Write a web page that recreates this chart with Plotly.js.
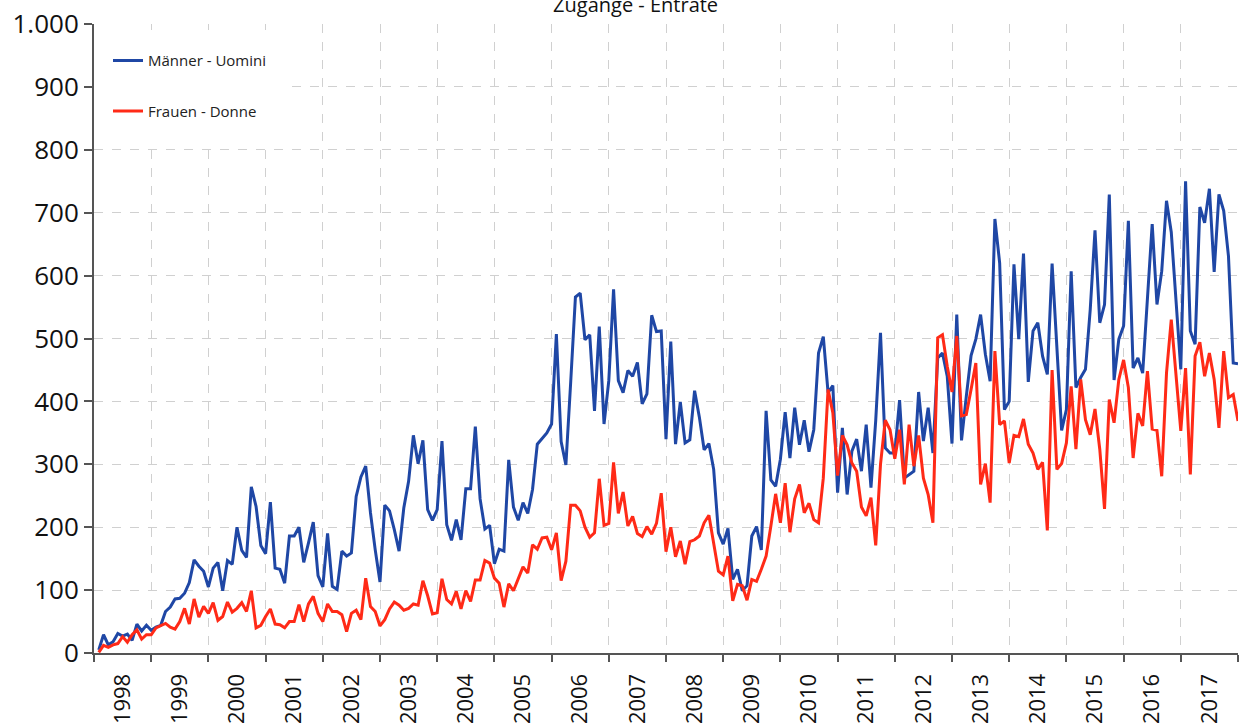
<!DOCTYPE html>
<html>
<head>
<meta charset="utf-8">
<script src="https://cdn.plot.ly/plotly-3.0.1.min.js"></script>
<style>html,body{margin:0;padding:0;background:#fff;}#chart{width:1239px;height:724px;}</style>
</head>
<body>
<div id="chart"></div>
<script>
const years = [1998,1999,2000,2001,2002,2003,2004,2005,2006,2007,2008,2009,2010,2011,2012,2013,2014,2015,2016,2017];
const yearLabels = years.map(String);
const seriesNames = ['Männer - Uomini', 'Frauen - Donne'];
const chartTitle = 'Zugänge - Entrate';

// monthly values, Jan..Dec per line
const maenner = [
  5, 29, 13, 18, 31, 27, 30, 20, 46, 35, 44, 36,
  41, 44, 66, 73, 86, 87, 95, 112, 148, 138, 130, 105,
  135, 144, 99, 147, 141, 200, 163, 152, 264, 233, 171, 158,
  240, 135, 133, 111, 186, 186, 200, 144, 175, 208, 123, 105,
  190, 106, 101, 162, 154, 159, 249, 280, 297, 223, 164, 113,
  235, 226, 196, 162, 231, 273, 346, 301, 338, 228, 211, 228,
  337, 204, 179, 212, 180, 261, 261, 360, 245, 197, 203, 142,
  165, 162, 307, 232, 211, 239, 222, 260, 332, 341, 350, 364,
  507, 336, 299, 430, 566, 572, 498, 506, 385, 519, 364, 433,
  578, 433, 414, 449, 440, 462, 396, 412, 537, 511, 512, 340,
  495, 332, 399, 334, 339, 417, 375, 323, 333, 292, 191, 173,
  198, 117, 133, 99, 107, 186, 201, 164, 385, 275, 265, 308,
  383, 310, 390, 331, 370, 320, 355, 477, 503, 414, 425, 255,
  358, 252, 321, 340, 289, 363, 263, 370, 509, 326, 318, 318,
  402, 278, 283, 289, 415, 337, 390, 318, 469, 477, 440, 333,
  538, 338, 408, 473, 499, 538, 475, 432, 690, 620, 387, 400,
  618, 499, 635, 431, 512, 525, 472, 443, 619, 490, 354, 387,
  607, 422, 438, 451, 546, 672, 525, 554, 729, 434, 499, 520,
  687, 453, 469, 445, 560, 682, 554, 607, 719, 669, 560, 451,
  750, 512, 491, 709, 684, 738, 606, 729, 703, 631, 461, 460
];
const frauen = [
  1, 12, 9, 13, 15, 26, 17, 29, 37, 22, 29, 29,
  40, 43, 47, 41, 38, 50, 71, 46, 86, 57, 74, 63,
  80, 52, 58, 81, 65, 71, 80, 66, 99, 40, 44, 58,
  70, 46, 45, 40, 50, 50, 77, 50, 78, 90, 63, 50,
  78, 66, 66, 61, 34, 63, 68, 53, 119, 74, 66, 43,
  53, 70, 81, 76, 68, 71, 78, 76, 115, 91, 62, 64,
  118, 85, 78, 98, 70, 99, 82, 116, 116, 147, 143, 119,
  111, 73, 110, 99, 119, 137, 127, 172, 165, 183, 184, 164,
  191, 115, 146, 235, 235, 226, 200, 184, 191, 277, 203, 206,
  303, 222, 256, 202, 217, 190, 185, 201, 189, 206, 254, 161,
  200, 153, 178, 141, 177, 180, 186, 207, 219, 172, 130, 124,
  154, 83, 109, 107, 84, 117, 114, 133, 154, 202, 253, 207,
  270, 192, 245, 268, 223, 238, 212, 207, 278, 419, 382, 282,
  346, 331, 302, 289, 232, 218, 247, 171, 300, 370, 355, 309,
  355, 268, 363, 297, 346, 278, 252, 207, 501, 506, 456, 415,
  504, 377, 379, 419, 461, 268, 301, 239, 480, 363, 369, 302,
  346, 344, 372, 332, 318, 292, 303, 195, 450, 292, 301, 334,
  424, 324, 435, 371, 347, 388, 324, 229, 403, 366, 435, 466,
  422, 310, 381, 361, 448, 356, 354, 281, 445, 530, 445, 353,
  453, 284, 472, 494, 440, 477, 435, 358, 480, 406, 411, 369
];

// x position of each monthly value: end of month, in fractional years
const xMonths = [];
years.forEach(y => { for (let m = 1; m <= 12; m++) xMonths.push(y + m / 12); });
const yearMid = years.map(y => y + 0.5);

const FONT = '"Open Sans", "DejaVu Sans", sans-serif';

const traces = [
  {x: xMonths, y: maenner, name: seriesNames[0], type: 'scatter', mode: 'lines',
   line: {color: '#1f47a5', width: 3}, legendgroup: 'a'},
  {x: xMonths, y: frauen, name: seriesNames[1], type: 'scatter', mode: 'lines',
   line: {color: '#ff2a17', width: 3}, legendgroup: 'b'}
];

const layout = {
  width: 1239, height: 724,
  margin: {l: 94, r: 1, t: 24, b: 71, pad: 0},
  paper_bgcolor: '#ffffff', plot_bgcolor: '#ffffff',
  separators: ',.',
  font: {family: FONT, color: '#111'},
  title: {text: chartTitle, font: {size: 20, color: '#111', family: FONT},
          xref: 'container', x: 0.513, xanchor: 'center',
          yref: 'container', y: 0.983, yanchor: 'bottom'},
  showlegend: true,
  legend: {x: 0.0, xanchor: 'left', y: 0.99, yanchor: 'top', bgcolor: '#ffffff',
           font: {size: 15, color: '#222', family: FONT}, tracegroupgap: 28,
           itemwidth: 30, borderwidth: 14, bordercolor: '#ffffff'},
  xaxis: {
    range: [1998, 2018], type: 'linear',
    tickmode: 'array', tickvals: yearMid, ticktext: yearLabels,
    tickangle: -90, ticks: 'outside', ticklen: 10, tickcolor: 'rgba(0,0,0,0)',
    tickfont: {size: 22, color: '#111', family: FONT},
    showgrid: false, zeroline: false,
    showline: true, linecolor: '#555', linewidth: 2,
    minor: {tickmode: 'linear', tick0: 1998, dtick: 1, ticks: 'outside', ticklen: 7,
            tickcolor: '#555', tickwidth: 2, showgrid: true, gridcolor: '#d0d0d0',
            griddash: 'dash', gridwidth: 1}
  },
  yaxis: {
    range: [0, 1000], tickmode: 'linear', tick0: 0, dtick: 100,
    separatethousands: true,
    ticks: 'outside', ticklen: 8, tickcolor: '#555', tickwidth: 2,
    tickfont: {size: 26, color: '#111', family: FONT},
    showgrid: true, gridcolor: '#d0d0d0', griddash: 'dash', gridwidth: 1,
    zeroline: false, showline: true, linecolor: '#555', linewidth: 2
  }
};

Plotly.newPlot('chart', traces, layout, {displayModeBar: false, staticPlot: true});
</script>
</body>
</html>
